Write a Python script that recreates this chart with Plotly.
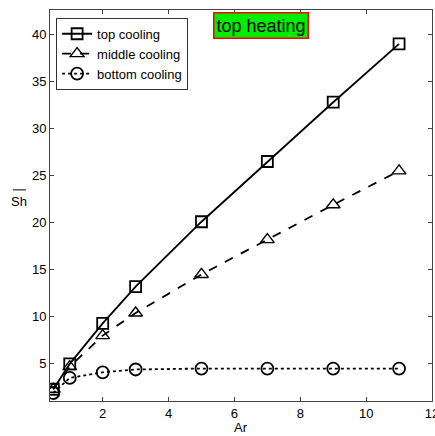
import plotly.graph_objects as go

ar = [0.5, 1, 2, 3, 5, 7, 9, 11]
top_cooling = [2.3, 5.0, 9.3, 13.2, 20.1, 26.5, 32.8, 39.0]
middle_cooling = [2.3, 4.7, 8.0, 10.4, 14.5, 18.2, 21.9, 25.5]
bottom_cooling = [1.9, 3.5, 4.1, 4.4, 4.5, 4.5, 4.5, 4.5]
x_ticks = [2, 4, 6, 8, 10, 12]
y_ticks = [5, 10, 15, 20, 25, 30, 35, 40]

FONT = "Liberation Sans Narrow, Arial Narrow, Liberation Sans, sans-serif"

fig = go.Figure()
fig.add_trace(go.Scatter(x=ar, y=top_cooling, name="top cooling", mode="lines+markers",
                         line=dict(color="black", width=1.8),
                         marker=dict(symbol="square-open", size=11, color="black", line=dict(width=1.8))))
fig.add_trace(go.Scatter(x=ar, y=middle_cooling, name="middle cooling", mode="lines+markers",
                         line=dict(color="black", width=1.8, dash="dash"),
                         marker=dict(symbol="triangle-up-open", size=12, color="black", line=dict(width=1.4))))
fig.add_trace(go.Scatter(x=ar, y=bottom_cooling, name="bottom cooling", mode="lines+markers",
                         line=dict(color="black", width=1.8, dash="dot"),
                         marker=dict(symbol="circle-open", size=12, color="black", line=dict(width=1.8))))

axis_common = dict(showgrid=False, zeroline=False, showline=True, linecolor="#444", linewidth=1,
                   mirror="ticks", ticks="inside", ticklen=4, tickcolor="#444", automargin=False,
                   ticklabeloverflow="allow",
                   tickfont=dict(family=FONT, size=13, color="black"))

fig.update_xaxes(range=[0.4, 12.0], tickvals=x_ticks, **axis_common)
fig.update_yaxes(range=[1.05, 42.6], tickvals=y_ticks, **axis_common)

fig.add_annotation(text="Ar", xref="paper", yref="paper", x=0.5, y=-0.069,
                   xanchor="center", yanchor="middle", showarrow=False,
                   font=dict(family=FONT, size=13, color="black"))

fig.add_annotation(text="Sh", xref="paper", yref="paper", x=-0.080, y=0.509,
                   xanchor="center", yanchor="middle", showarrow=False,
                   font=dict(family=FONT, size=13, color="black"))
fig.add_shape(type="line", xref="paper", yref="paper", x0=-0.097, x1=-0.063, y0=0.54, y1=0.54,
              line=dict(color="black", width=1))

fig.add_annotation(text="top heating", xref="paper", yref="paper", x=0.552, y=0.995,
                   xanchor="center", yanchor="top", showarrow=False,
                   font=dict(family=FONT, size=18, color="black"),
                   bgcolor="#00ee00", bordercolor="red", borderwidth=1.5, borderpad=2)

fig.update_layout(
    width=435, height=436,
    margin=dict(l=50, r=3, t=10, b=35, autoexpand=False),
    paper_bgcolor="white", plot_bgcolor="white",
    showlegend=True,
    legend=dict(x=0.016, y=0.98, xanchor="left", yanchor="top",
                bgcolor="white", bordercolor="#333", borderwidth=1,
                font=dict(family=FONT, size=13, color="black"),
                itemwidth=30, tracegroupgap=0),
)

fig.write_html("out.html", config={"displayModeBar": False},
               post_script="document.body.style.margin='0';document.body.style.overflow='hidden';")
